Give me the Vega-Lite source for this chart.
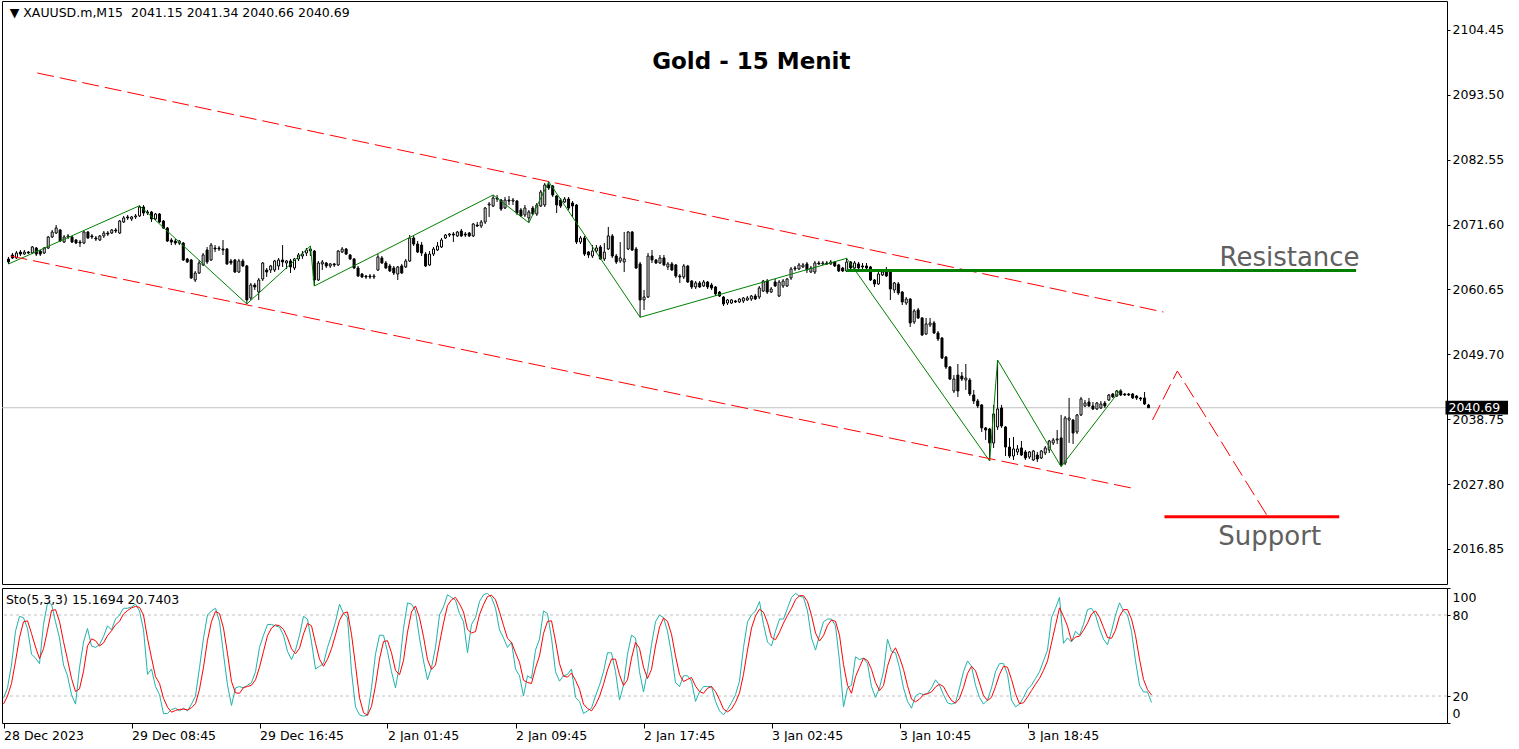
{
"$schema":"https://vega.github.io/schema/vega-lite/v6.json",
"padding":{"left":1,"top":0,"right":0,"bottom":0},
"background":"white",
"spacing":2,
"config":{"view":{"stroke":"black","strokeWidth":1},"font":"DejaVu Sans","axis":{"labelFont":"DejaVu Sans","labelFontSize":12.5,"labelColor":"black","tickColor":"black","domain":false,"grid":false,"title":null}},
"datasets":{
"bars":[
{"i":0,"o":2065.80,"h":2066.14,"l":2064.96,"c":2065.29,"k":18.5,"d":14},
{"i":1,"o":2066.47,"h":2066.81,"l":2065.80,"c":2065.97,"k":26,"d":20},
{"i":2,"o":2065.97,"h":2067.14,"l":2065.80,"c":2066.81,"k":43,"d":29.2},
{"i":3,"o":2066.97,"h":2067.31,"l":2066.30,"c":2066.63,"k":68,"d":45.7},
{"i":4,"o":2066.63,"h":2067.31,"l":2066.47,"c":2066.97,"k":79,"d":63.3},
{"i":5,"o":2066.97,"h":2067.14,"l":2066.63,"c":2066.81,"k":78,"d":75},
{"i":6,"o":2066.81,"h":2067.99,"l":2066.63,"c":2067.82,"k":70,"d":75.7},
{"i":7,"o":2067.65,"h":2067.82,"l":2066.30,"c":2066.63,"k":51,"d":66.3},
{"i":8,"o":2067.14,"h":2067.31,"l":2066.30,"c":2066.63,"k":48,"d":56.3},
{"i":9,"o":2066.81,"h":2067.82,"l":2066.63,"c":2067.65,"k":44,"d":47.7},
{"i":10,"o":2067.65,"h":2069.68,"l":2067.48,"c":2069.51,"k":73,"d":55},
{"i":11,"o":2069.51,"h":2070.69,"l":2069.34,"c":2070.35,"k":89,"d":68.7},
{"i":12,"o":2070.18,"h":2071.53,"l":2070.01,"c":2071.03,"k":88,"d":83.3},
{"i":13,"o":2070.69,"h":2070.86,"l":2068.66,"c":2068.83,"k":75,"d":84},
{"i":14,"o":2068.66,"h":2069.84,"l":2068.49,"c":2069.51,"k":63,"d":75.3},
{"i":15,"o":2069.51,"h":2070.01,"l":2069.17,"c":2069.68,"k":43,"d":60.3},
{"i":16,"o":2069.51,"h":2069.68,"l":2068.49,"c":2068.66,"k":35,"d":47},
{"i":17,"o":2069.00,"h":2069.17,"l":2068.32,"c":2068.49,"k":21,"d":33},
{"i":18,"o":2068.66,"h":2069.00,"l":2067.82,"c":2068.49,"k":14,"d":23.3},
{"i":19,"o":2068.49,"h":2070.52,"l":2068.32,"c":2070.35,"k":41,"d":25.3},
{"i":20,"o":2070.35,"h":2070.52,"l":2069.17,"c":2069.34,"k":60,"d":38.3},
{"i":21,"o":2069.68,"h":2070.01,"l":2069.17,"c":2069.51,"k":70,"d":57},
{"i":22,"o":2069.34,"h":2069.68,"l":2068.83,"c":2069.17,"k":57,"d":62.3},
{"i":23,"o":2069.00,"h":2069.84,"l":2068.83,"c":2069.68,"k":56,"d":61},
{"i":24,"o":2069.68,"h":2070.52,"l":2069.34,"c":2070.18,"k":58,"d":57},
{"i":25,"o":2070.18,"h":2070.52,"l":2069.68,"c":2070.01,"k":64,"d":59.3},
{"i":26,"o":2070.18,"h":2070.86,"l":2070.01,"c":2070.69,"k":72,"d":64.7},
{"i":27,"o":2070.69,"h":2071.03,"l":2070.18,"c":2070.52,"k":69,"d":68.3},
{"i":28,"o":2070.18,"h":2072.38,"l":2070.01,"c":2072.21,"k":77,"d":72.7},
{"i":29,"o":2072.04,"h":2073.06,"l":2071.87,"c":2072.72,"k":80,"d":75.3},
{"i":30,"o":2072.89,"h":2073.23,"l":2072.38,"c":2072.72,"k":85,"d":80.7},
{"i":31,"o":2072.55,"h":2073.06,"l":2072.21,"c":2072.89,"k":85,"d":83.3},
{"i":32,"o":2072.89,"h":2073.39,"l":2072.55,"c":2073.06,"k":86,"d":85.3},
{"i":33,"o":2073.06,"h":2074.79,"l":2072.89,"c":2074.57,"k":88,"d":86.3},
{"i":34,"o":2074.57,"h":2074.91,"l":2073.06,"c":2073.56,"k":83,"d":85.7},
{"i":35,"o":2073.73,"h":2074.07,"l":2073.23,"c":2073.56,"k":69,"d":80},
{"i":36,"o":2073.73,"h":2073.90,"l":2072.04,"c":2072.55,"k":36,"d":62.7},
{"i":37,"o":2072.55,"h":2073.56,"l":2072.38,"c":2073.39,"k":40,"d":48.3},
{"i":38,"o":2073.39,"h":2073.56,"l":2071.87,"c":2072.04,"k":27,"d":34.3},
{"i":39,"o":2072.21,"h":2072.38,"l":2070.86,"c":2071.03,"k":21,"d":29.3},
{"i":40,"o":2071.03,"h":2071.20,"l":2068.66,"c":2068.83,"k":7,"d":18.3},
{"i":41,"o":2069.00,"h":2069.34,"l":2068.15,"c":2068.66,"k":7,"d":11.7},
{"i":42,"o":2068.83,"h":2069.17,"l":2068.15,"c":2068.49,"k":10,"d":8},
{"i":43,"o":2068.49,"h":2069.00,"l":2068.15,"c":2068.83,"k":11,"d":9.3},
{"i":44,"o":2068.49,"h":2068.66,"l":2065.46,"c":2065.63,"k":9,"d":10},
{"i":45,"o":2065.80,"h":2065.97,"l":2065.12,"c":2065.29,"k":11,"d":10.3},
{"i":46,"o":2065.63,"h":2065.80,"l":2062.42,"c":2062.59,"k":9,"d":9.7},
{"i":47,"o":2062.25,"h":2063.77,"l":2061.91,"c":2063.43,"k":14,"d":11.3},
{"i":48,"o":2063.43,"h":2065.63,"l":2063.26,"c":2065.12,"k":20,"d":14.3},
{"i":49,"o":2064.79,"h":2066.81,"l":2064.62,"c":2066.47,"k":41,"d":25},
{"i":50,"o":2067.31,"h":2067.82,"l":2064.96,"c":2065.29,"k":63,"d":41.3},
{"i":51,"o":2065.63,"h":2068.49,"l":2065.46,"c":2068.15,"k":80,"d":61.3},
{"i":52,"o":2067.65,"h":2068.15,"l":2066.97,"c":2067.48,"k":83,"d":75.3},
{"i":53,"o":2067.65,"h":2067.99,"l":2067.14,"c":2067.48,"k":85,"d":82.7},
{"i":54,"o":2067.48,"h":2069.00,"l":2066.47,"c":2067.31,"k":75,"d":81},
{"i":55,"o":2067.48,"h":2067.65,"l":2064.79,"c":2064.96,"k":51,"d":70.3},
{"i":56,"o":2065.46,"h":2065.80,"l":2064.79,"c":2065.12,"k":28,"d":51.3},
{"i":57,"o":2065.63,"h":2065.80,"l":2063.43,"c":2063.60,"k":13,"d":30.7},
{"i":58,"o":2063.60,"h":2065.80,"l":2063.43,"c":2065.46,"k":26,"d":22.3},
{"i":59,"o":2065.46,"h":2065.80,"l":2064.45,"c":2064.62,"k":27,"d":22},
{"i":60,"o":2064.62,"h":2064.79,"l":2058.20,"c":2058.88,"k":26,"d":26.3},
{"i":61,"o":2059.21,"h":2061.75,"l":2058.88,"c":2061.41,"k":28,"d":27},
{"i":62,"o":2061.41,"h":2061.75,"l":2060.56,"c":2061.07,"k":30,"d":28},
{"i":63,"o":2060.22,"h":2062.59,"l":2058.88,"c":2062.25,"k":38,"d":32},
{"i":64,"o":2062.42,"h":2065.29,"l":2062.08,"c":2065.12,"k":56,"d":41.3},
{"i":65,"o":2063.94,"h":2064.28,"l":2062.76,"c":2063.60,"k":65,"d":53},
{"i":66,"o":2063.94,"h":2064.79,"l":2063.43,"c":2064.62,"k":73,"d":64.7},
{"i":67,"o":2063.94,"h":2065.63,"l":2063.60,"c":2065.46,"k":73,"d":70.3},
{"i":68,"o":2064.62,"h":2065.97,"l":2063.94,"c":2065.63,"k":72,"d":72.7},
{"i":69,"o":2065.63,"h":2068.15,"l":2064.45,"c":2065.29,"k":71,"d":72},
{"i":70,"o":2065.12,"h":2065.63,"l":2064.11,"c":2065.46,"k":65,"d":69.3},
{"i":71,"o":2065.46,"h":2065.80,"l":2063.43,"c":2064.45,"k":53,"d":63},
{"i":72,"o":2064.28,"h":2065.97,"l":2063.94,"c":2065.80,"k":47,"d":55},
{"i":73,"o":2065.80,"h":2066.81,"l":2065.46,"c":2066.47,"k":54,"d":51.3},
{"i":74,"o":2066.30,"h":2067.14,"l":2065.80,"c":2066.63,"k":65,"d":55.3},
{"i":75,"o":2066.81,"h":2067.65,"l":2066.30,"c":2067.31,"k":79,"d":66},
{"i":76,"o":2067.14,"h":2067.99,"l":2066.30,"c":2067.48,"k":77,"d":73.7},
{"i":77,"o":2067.14,"h":2067.31,"l":2061.24,"c":2062.25,"k":60,"d":72},
{"i":78,"o":2062.25,"h":2065.46,"l":2062.08,"c":2065.12,"k":40,"d":59},
{"i":79,"o":2064.96,"h":2065.63,"l":2063.94,"c":2065.29,"k":42,"d":47.3},
{"i":80,"o":2065.12,"h":2065.29,"l":2064.28,"c":2064.62,"k":44,"d":42},
{"i":81,"o":2064.62,"h":2065.12,"l":2064.28,"c":2064.96,"k":56,"d":47.3},
{"i":82,"o":2064.96,"h":2065.12,"l":2064.45,"c":2064.79,"k":65,"d":55},
{"i":83,"o":2064.79,"h":2067.31,"l":2064.62,"c":2067.14,"k":75,"d":65.3},
{"i":84,"o":2066.97,"h":2067.82,"l":2066.81,"c":2067.48,"k":88,"d":76},
{"i":85,"o":2067.48,"h":2067.65,"l":2066.47,"c":2066.63,"k":81,"d":81.3},
{"i":86,"o":2066.47,"h":2066.63,"l":2065.63,"c":2065.80,"k":78,"d":82.3},
{"i":87,"o":2065.80,"h":2065.97,"l":2064.11,"c":2064.28,"k":38,"d":65.7},
{"i":88,"o":2064.28,"h":2064.62,"l":2062.76,"c":2062.93,"k":12,"d":42.7},
{"i":89,"o":2063.26,"h":2063.43,"l":2062.59,"c":2062.76,"k":6,"d":18.7},
{"i":90,"o":2062.93,"h":2063.09,"l":2062.42,"c":2062.76,"k":5,"d":7.7},
{"i":91,"o":2062.93,"h":2063.26,"l":2062.42,"c":2062.76,"k":6,"d":5.7},
{"i":92,"o":2062.76,"h":2063.26,"l":2062.42,"c":2062.93,"k":26,"d":12.3},
{"i":93,"o":2063.94,"h":2066.63,"l":2063.77,"c":2066.14,"k":51,"d":27.7},
{"i":94,"o":2065.97,"h":2066.30,"l":2064.96,"c":2065.12,"k":65,"d":47.3},
{"i":95,"o":2065.12,"h":2065.46,"l":2064.11,"c":2064.28,"k":65,"d":60.3},
{"i":96,"o":2064.62,"h":2064.96,"l":2063.60,"c":2063.77,"k":53,"d":61},
{"i":97,"o":2064.28,"h":2064.62,"l":2063.09,"c":2063.43,"k":38,"d":52},
{"i":98,"o":2063.26,"h":2064.62,"l":2062.25,"c":2064.45,"k":26,"d":39},
{"i":99,"o":2064.62,"h":2064.96,"l":2063.26,"c":2063.43,"k":43,"d":35.7},
{"i":100,"o":2064.45,"h":2065.80,"l":2064.28,"c":2065.46,"k":70,"d":46.3},
{"i":101,"o":2065.46,"h":2069.84,"l":2065.29,"c":2069.34,"k":89,"d":67.3},
{"i":102,"o":2069.34,"h":2069.68,"l":2067.99,"c":2068.32,"k":88,"d":82.3},
{"i":103,"o":2068.32,"h":2068.83,"l":2066.81,"c":2066.97,"k":83,"d":86.7},
{"i":104,"o":2068.15,"h":2068.66,"l":2066.30,"c":2066.81,"k":63,"d":78},
{"i":105,"o":2066.63,"h":2066.97,"l":2064.45,"c":2064.62,"k":46,"d":64},
{"i":106,"o":2064.79,"h":2067.14,"l":2064.62,"c":2066.63,"k":32,"d":47},
{"i":107,"o":2066.63,"h":2067.82,"l":2066.30,"c":2067.48,"k":41,"d":39.7},
{"i":108,"o":2067.31,"h":2068.66,"l":2067.14,"c":2067.99,"k":56,"d":43},
{"i":109,"o":2067.82,"h":2069.34,"l":2067.65,"c":2069.00,"k":80,"d":59},
{"i":110,"o":2069.34,"h":2070.01,"l":2069.17,"c":2069.84,"k":86,"d":74},
{"i":111,"o":2069.84,"h":2070.18,"l":2069.51,"c":2070.01,"k":95,"d":87},
{"i":112,"o":2070.01,"h":2070.35,"l":2068.66,"c":2069.84,"k":93,"d":91.3},
{"i":113,"o":2069.68,"h":2070.52,"l":2069.51,"c":2070.35,"k":91,"d":93},
{"i":114,"o":2070.52,"h":2070.86,"l":2069.51,"c":2069.68,"k":81,"d":88.3},
{"i":115,"o":2070.01,"h":2070.35,"l":2069.51,"c":2069.84,"k":75,"d":82.3},
{"i":116,"o":2070.18,"h":2070.35,"l":2069.51,"c":2069.68,"k":52,"d":69.3},
{"i":117,"o":2069.68,"h":2071.87,"l":2069.51,"c":2071.70,"k":73,"d":66.7},
{"i":118,"o":2071.53,"h":2072.04,"l":2071.20,"c":2071.36,"k":78,"d":67.7},
{"i":119,"o":2071.36,"h":2072.38,"l":2071.03,"c":2072.04,"k":90,"d":80.3},
{"i":120,"o":2072.04,"h":2074.57,"l":2071.70,"c":2074.40,"k":95,"d":87.7},
{"i":121,"o":2074.91,"h":2075.42,"l":2072.89,"c":2075.08,"k":96,"d":93.7},
{"i":122,"o":2074.74,"h":2076.60,"l":2074.57,"c":2076.09,"k":93,"d":94.7},
{"i":123,"o":2076.09,"h":2076.60,"l":2075.42,"c":2075.92,"k":85,"d":91.3},
{"i":124,"o":2075.75,"h":2075.92,"l":2073.90,"c":2074.23,"k":69,"d":82.3},
{"i":125,"o":2074.40,"h":2076.26,"l":2074.23,"c":2075.75,"k":63,"d":72.3},
{"i":126,"o":2075.75,"h":2076.43,"l":2074.91,"c":2075.58,"k":56,"d":62.7},
{"i":127,"o":2075.58,"h":2076.09,"l":2074.91,"c":2075.75,"k":60,"d":59.7},
{"i":128,"o":2075.58,"h":2075.75,"l":2073.23,"c":2073.56,"k":40,"d":52},
{"i":129,"o":2074.07,"h":2074.40,"l":2072.89,"c":2073.06,"k":35,"d":45},
{"i":130,"o":2073.23,"h":2074.91,"l":2072.89,"c":2074.40,"k":20,"d":31.7},
{"i":131,"o":2072.72,"h":2074.07,"l":2071.92,"c":2073.73,"k":35,"d":30},
{"i":132,"o":2074.40,"h":2074.74,"l":2073.23,"c":2073.39,"k":33,"d":29.3},
{"i":133,"o":2073.39,"h":2075.25,"l":2073.06,"c":2074.91,"k":54,"d":40.7},
{"i":134,"o":2074.74,"h":2077.44,"l":2074.57,"c":2077.10,"k":62,"d":49.7},
{"i":135,"o":2074.91,"h":2078.62,"l":2074.57,"c":2078.29,"k":83,"d":66.3},
{"i":136,"o":2078.29,"h":2078.84,"l":2077.44,"c":2077.78,"k":81,"d":75.3},
{"i":137,"o":2078.12,"h":2078.29,"l":2076.26,"c":2076.60,"k":63,"d":75.7},
{"i":138,"o":2076.43,"h":2076.60,"l":2073.56,"c":2074.91,"k":38,"d":60.7},
{"i":139,"o":2075.75,"h":2076.09,"l":2074.40,"c":2074.74,"k":31,"d":44},
{"i":140,"o":2075.42,"h":2076.26,"l":2075.25,"c":2075.92,"k":35,"d":34.7},
{"i":141,"o":2075.92,"h":2076.26,"l":2074.07,"c":2074.40,"k":36,"d":34},
{"i":142,"o":2075.25,"h":2075.58,"l":2072.89,"c":2074.74,"k":40,"d":37},
{"i":143,"o":2074.91,"h":2075.08,"l":2068.32,"c":2068.66,"k":19,"d":31.7},
{"i":144,"o":2068.66,"h":2069.68,"l":2068.32,"c":2069.34,"k":16,"d":25},
{"i":145,"o":2069.34,"h":2069.68,"l":2066.30,"c":2066.63,"k":7,"d":14},
{"i":146,"o":2066.97,"h":2067.14,"l":2065.97,"c":2066.47,"k":9,"d":10.7},
{"i":147,"o":2066.30,"h":2068.15,"l":2065.97,"c":2067.14,"k":11,"d":9},
{"i":148,"o":2067.14,"h":2068.15,"l":2066.81,"c":2067.65,"k":20,"d":13.3},
{"i":149,"o":2067.82,"h":2068.15,"l":2065.63,"c":2065.80,"k":28,"d":19.7},
{"i":150,"o":2065.80,"h":2068.49,"l":2065.46,"c":2066.97,"k":38,"d":28.7},
{"i":151,"o":2067.48,"h":2071.20,"l":2067.31,"c":2069.68,"k":52,"d":39.3},
{"i":152,"o":2069.68,"h":2070.01,"l":2065.97,"c":2066.30,"k":52,"d":47.3},
{"i":153,"o":2066.30,"h":2066.63,"l":2064.96,"c":2065.29,"k":38,"d":47.3},
{"i":154,"o":2065.46,"h":2068.66,"l":2065.12,"c":2065.97,"k":17,"d":35.7},
{"i":155,"o":2065.29,"h":2070.35,"l":2063.60,"c":2065.80,"k":28,"d":27.7},
{"i":156,"o":2067.48,"h":2070.52,"l":2067.31,"c":2070.35,"k":51,"d":32},
{"i":157,"o":2070.35,"h":2070.52,"l":2067.14,"c":2067.31,"k":65,"d":48},
{"i":158,"o":2067.48,"h":2067.82,"l":2064.11,"c":2064.28,"k":63,"d":59.7},
{"i":159,"o":2064.96,"h":2065.29,"l":2055.96,"c":2058.88,"k":38,"d":55.3},
{"i":160,"o":2058.88,"h":2060.56,"l":2057.19,"c":2059.38,"k":23,"d":41.3},
{"i":161,"o":2059.38,"h":2066.81,"l":2059.21,"c":2066.30,"k":38,"d":33},
{"i":162,"o":2066.30,"h":2067.31,"l":2065.12,"c":2065.63,"k":58,"d":39.7},
{"i":163,"o":2065.63,"h":2065.80,"l":2064.96,"c":2065.12,"k":75,"d":57},
{"i":164,"o":2065.12,"h":2066.47,"l":2064.96,"c":2065.97,"k":80,"d":71},
{"i":165,"o":2065.97,"h":2066.47,"l":2064.62,"c":2064.79,"k":78,"d":77.7},
{"i":166,"o":2064.45,"h":2065.29,"l":2063.94,"c":2064.96,"k":68,"d":75.3},
{"i":167,"o":2064.96,"h":2065.29,"l":2063.77,"c":2063.94,"k":51,"d":65.7},
{"i":168,"o":2064.79,"h":2064.96,"l":2062.59,"c":2062.93,"k":30,"d":49.7},
{"i":169,"o":2062.93,"h":2063.26,"l":2061.75,"c":2062.76,"k":27,"d":36},
{"i":170,"o":2062.76,"h":2064.96,"l":2062.42,"c":2064.62,"k":35,"d":30.7},
{"i":171,"o":2064.62,"h":2064.79,"l":2061.75,"c":2061.91,"k":35,"d":32.3},
{"i":172,"o":2062.08,"h":2062.25,"l":2060.73,"c":2061.07,"k":31,"d":33.7},
{"i":173,"o":2061.07,"h":2062.08,"l":2060.73,"c":2061.75,"k":16,"d":27.3},
{"i":174,"o":2061.75,"h":2062.08,"l":2060.90,"c":2061.07,"k":23,"d":23.3},
{"i":175,"o":2061.24,"h":2062.25,"l":2061.07,"c":2061.91,"k":27,"d":22},
{"i":176,"o":2061.91,"h":2062.08,"l":2060.73,"c":2061.07,"k":27,"d":25.7},
{"i":177,"o":2061.41,"h":2061.75,"l":2060.56,"c":2060.90,"k":27,"d":27},
{"i":178,"o":2061.07,"h":2061.24,"l":2059.55,"c":2059.89,"k":16,"d":23.3},
{"i":179,"o":2060.22,"h":2060.39,"l":2059.38,"c":2059.55,"k":9,"d":17.3},
{"i":180,"o":2059.38,"h":2059.55,"l":2057.86,"c":2058.20,"k":6,"d":10.3},
{"i":181,"o":2058.37,"h":2059.04,"l":2058.03,"c":2058.88,"k":10,"d":8.3},
{"i":182,"o":2058.37,"h":2059.04,"l":2058.20,"c":2058.88,"k":15,"d":10.3},
{"i":183,"o":2058.71,"h":2058.88,"l":2058.37,"c":2058.54,"k":21,"d":15.3},
{"i":184,"o":2058.54,"h":2059.21,"l":2058.37,"c":2059.04,"k":31,"d":22.3},
{"i":185,"o":2058.71,"h":2059.38,"l":2058.37,"c":2059.21,"k":56,"d":36},
{"i":186,"o":2058.88,"h":2059.55,"l":2058.71,"c":2059.21,"k":75,"d":54},
{"i":187,"o":2059.04,"h":2059.72,"l":2058.71,"c":2059.55,"k":80,"d":70.3},
{"i":188,"o":2059.55,"h":2059.89,"l":2058.88,"c":2059.04,"k":83,"d":79.3},
{"i":189,"o":2059.38,"h":2061.24,"l":2059.04,"c":2060.90,"k":90,"d":84.3},
{"i":190,"o":2060.39,"h":2062.25,"l":2060.22,"c":2062.08,"k":73,"d":82},
{"i":191,"o":2062.08,"h":2062.42,"l":2059.89,"c":2060.22,"k":60,"d":74.3},
{"i":192,"o":2060.22,"h":2061.07,"l":2060.06,"c":2060.73,"k":57,"d":63.3},
{"i":193,"o":2061.91,"h":2062.42,"l":2061.07,"c":2061.24,"k":68,"d":61.7},
{"i":194,"o":2059.55,"h":2062.25,"l":2059.38,"c":2061.91,"k":77,"d":67.3},
{"i":195,"o":2061.24,"h":2062.42,"l":2060.90,"c":2062.08,"k":77,"d":74},
{"i":196,"o":2061.24,"h":2062.59,"l":2061.07,"c":2062.42,"k":85,"d":79.7},
{"i":197,"o":2062.59,"h":2064.45,"l":2062.25,"c":2064.11,"k":93,"d":85},
{"i":198,"o":2064.28,"h":2064.62,"l":2063.77,"c":2064.11,"k":96,"d":91.3},
{"i":199,"o":2064.11,"h":2065.12,"l":2063.94,"c":2064.79,"k":94,"d":94.3},
{"i":200,"o":2064.45,"h":2065.12,"l":2064.28,"c":2064.79,"k":93,"d":94.3},
{"i":201,"o":2064.96,"h":2065.29,"l":2063.43,"c":2063.94,"k":83,"d":90},
{"i":202,"o":2063.60,"h":2064.62,"l":2063.43,"c":2064.28,"k":63,"d":79.7},
{"i":203,"o":2063.60,"h":2065.46,"l":2063.26,"c":2065.12,"k":54,"d":66.7},
{"i":204,"o":2065.12,"h":2065.46,"l":2064.79,"c":2064.96,"k":65,"d":60.7},
{"i":205,"o":2064.96,"h":2065.46,"l":2064.79,"c":2065.12,"k":75,"d":64.7},
{"i":206,"o":2065.12,"h":2065.46,"l":2064.79,"c":2064.96,"k":77,"d":72.3},
{"i":207,"o":2064.96,"h":2065.63,"l":2064.79,"c":2065.29,"k":77,"d":76.3},
{"i":208,"o":2065.29,"h":2065.46,"l":2064.45,"c":2064.62,"k":72,"d":75.3},
{"i":209,"o":2064.79,"h":2064.96,"l":2063.60,"c":2063.77,"k":46,"d":65},
{"i":210,"o":2064.28,"h":2064.45,"l":2063.60,"c":2063.77,"k":12,"d":43.3},
{"i":211,"o":2063.77,"h":2065.91,"l":2063.60,"c":2065.29,"k":26,"d":28},
{"i":212,"o":2065.29,"h":2065.46,"l":2063.94,"c":2064.28,"k":28,"d":22},
{"i":213,"o":2064.28,"h":2065.46,"l":2064.11,"c":2065.12,"k":49,"d":34.3},
{"i":214,"o":2064.96,"h":2065.29,"l":2064.11,"c":2064.28,"k":47,"d":41.3},
{"i":215,"o":2064.62,"h":2065.12,"l":2063.94,"c":2064.45,"k":48,"d":48},
{"i":216,"o":2064.62,"h":2065.12,"l":2063.94,"c":2064.28,"k":44,"d":46.3},
{"i":217,"o":2064.45,"h":2064.62,"l":2062.08,"c":2062.25,"k":27,"d":39.7},
{"i":218,"o":2062.25,"h":2062.42,"l":2061.07,"c":2061.58,"k":19,"d":30},
{"i":219,"o":2061.58,"h":2063.60,"l":2061.41,"c":2063.26,"k":26,"d":24},
{"i":220,"o":2063.09,"h":2063.94,"l":2062.93,"c":2063.60,"k":38,"d":27.7},
{"i":221,"o":2063.94,"h":2064.45,"l":2062.76,"c":2062.93,"k":62,"d":42},
{"i":222,"o":2063.77,"h":2063.94,"l":2058.88,"c":2060.73,"k":53,"d":51},
{"i":223,"o":2060.56,"h":2061.91,"l":2060.06,"c":2061.75,"k":52,"d":55.7},
{"i":224,"o":2061.58,"h":2061.91,"l":2059.72,"c":2060.06,"k":41,"d":48.7},
{"i":225,"o":2060.22,"h":2060.39,"l":2058.03,"c":2058.54,"k":26,"d":39.7},
{"i":226,"o":2058.37,"h":2059.38,"l":2058.03,"c":2059.04,"k":16,"d":27.7},
{"i":227,"o":2059.04,"h":2059.21,"l":2054.32,"c":2055.00,"k":11,"d":17.7},
{"i":228,"o":2055.17,"h":2057.36,"l":2054.83,"c":2057.02,"k":20,"d":15.7},
{"i":229,"o":2057.19,"h":2057.53,"l":2055.67,"c":2055.84,"k":22,"d":17.7},
{"i":230,"o":2055.84,"h":2056.01,"l":2052.80,"c":2052.97,"k":21,"d":21},
{"i":231,"o":2053.14,"h":2055.84,"l":2052.97,"c":2054.83,"k":22,"d":21.7},
{"i":232,"o":2054.66,"h":2055.84,"l":2054.32,"c":2055.00,"k":26,"d":23},
{"i":233,"o":2055.00,"h":2055.34,"l":2053.14,"c":2053.31,"k":32,"d":26.7},
{"i":234,"o":2053.31,"h":2053.64,"l":2051.95,"c":2052.29,"k":28,"d":28.7},
{"i":235,"o":2052.46,"h":2052.63,"l":2048.91,"c":2049.08,"k":21,"d":27},
{"i":236,"o":2049.25,"h":2049.42,"l":2047.23,"c":2047.57,"k":15,"d":21.3},
{"i":237,"o":2047.57,"h":2047.74,"l":2045.37,"c":2045.54,"k":14,"d":16.7},
{"i":238,"o":2043.52,"h":2046.21,"l":2043.18,"c":2045.54,"k":15,"d":14.7},
{"i":239,"o":2046.21,"h":2048.07,"l":2042.51,"c":2043.52,"k":26,"d":18.3},
{"i":240,"o":2046.04,"h":2046.72,"l":2045.20,"c":2045.54,"k":38,"d":26.3},
{"i":241,"o":2045.37,"h":2048.07,"l":2043.69,"c":2045.71,"k":46,"d":36.7},
{"i":242,"o":2045.37,"h":2045.71,"l":2042.67,"c":2043.01,"k":42,"d":42},
{"i":243,"o":2042.84,"h":2043.69,"l":2041.32,"c":2041.83,"k":28,"d":38.7},
{"i":244,"o":2041.83,"h":2042.17,"l":2040.65,"c":2040.99,"k":19,"d":29.7},
{"i":245,"o":2041.16,"h":2041.32,"l":2036.60,"c":2037.28,"k":14,"d":20.3},
{"i":246,"o":2037.28,"h":2037.44,"l":2035.25,"c":2036.93,"k":17,"d":16.7},
{"i":247,"o":2037.10,"h":2037.28,"l":2031.70,"c":2034.74,"k":26,"d":19},
{"i":248,"o":2034.74,"h":2041.16,"l":2033.90,"c":2039.64,"k":38,"d":27},
{"i":249,"o":2037.44,"h":2048.75,"l":2036.93,"c":2040.48,"k":44,"d":36},
{"i":250,"o":2040.65,"h":2041.16,"l":2037.28,"c":2037.61,"k":44,"d":42},
{"i":251,"o":2037.44,"h":2037.61,"l":2032.54,"c":2034.06,"k":36,"d":41.3},
{"i":252,"o":2034.06,"h":2035.59,"l":2032.21,"c":2032.54,"k":17,"d":32.3},
{"i":253,"o":2032.54,"h":2035.76,"l":2031.87,"c":2033.73,"k":12,"d":21.7},
{"i":254,"o":2033.22,"h":2034.40,"l":2032.71,"c":2033.73,"k":14,"d":14.3},
{"i":255,"o":2033.90,"h":2035.08,"l":2032.54,"c":2032.71,"k":19,"d":15},
{"i":256,"o":2033.22,"h":2033.56,"l":2031.87,"c":2032.21,"k":25,"d":19.3},
{"i":257,"o":2032.38,"h":2033.39,"l":2032.04,"c":2033.22,"k":28,"d":24},
{"i":258,"o":2031.87,"h":2033.56,"l":2031.70,"c":2033.39,"k":33,"d":28.7},
{"i":259,"o":2032.71,"h":2033.22,"l":2031.53,"c":2032.04,"k":38,"d":33},
{"i":260,"o":2032.21,"h":2033.56,"l":2032.04,"c":2033.39,"k":46,"d":39},
{"i":261,"o":2033.05,"h":2034.23,"l":2032.71,"c":2033.90,"k":54,"d":46},
{"i":262,"o":2033.56,"h":2035.25,"l":2033.05,"c":2035.08,"k":78,"d":59.3},
{"i":263,"o":2034.74,"h":2035.59,"l":2034.40,"c":2035.25,"k":85,"d":72.3},
{"i":264,"o":2035.25,"h":2036.93,"l":2034.57,"c":2035.42,"k":93,"d":85.3},
{"i":265,"o":2035.59,"h":2039.47,"l":2030.74,"c":2031.03,"k":59,"d":79},
{"i":266,"o":2031.36,"h":2039.30,"l":2031.03,"c":2038.96,"k":63,"d":71.7},
{"i":267,"o":2038.62,"h":2042.34,"l":2034.74,"c":2038.96,"k":60,"d":60.7},
{"i":268,"o":2038.62,"h":2038.79,"l":2034.57,"c":2036.43,"k":68,"d":63.7},
{"i":269,"o":2036.60,"h":2039.64,"l":2036.26,"c":2039.47,"k":65,"d":64.3},
{"i":270,"o":2039.47,"h":2042.51,"l":2039.30,"c":2042.17,"k":73,"d":68.7},
{"i":271,"o":2040.99,"h":2042.00,"l":2040.82,"c":2041.49,"k":84,"d":74},
{"i":272,"o":2041.66,"h":2042.34,"l":2040.82,"c":2040.99,"k":85,"d":80.7},
{"i":273,"o":2040.99,"h":2041.66,"l":2040.31,"c":2040.48,"k":80,"d":83},
{"i":274,"o":2040.48,"h":2041.66,"l":2040.31,"c":2041.49,"k":70,"d":78.3},
{"i":275,"o":2040.65,"h":2041.83,"l":2040.48,"c":2041.32,"k":62,"d":70.7},
{"i":276,"o":2041.49,"h":2041.83,"l":2040.65,"c":2040.99,"k":58,"d":63.3},
{"i":277,"o":2042.00,"h":2043.01,"l":2041.83,"c":2042.84,"k":68,"d":62.7},
{"i":278,"o":2043.01,"h":2043.18,"l":2042.34,"c":2042.51,"k":80,"d":68.7},
{"i":279,"o":2042.67,"h":2043.69,"l":2042.51,"c":2043.52,"k":89,"d":79},
{"i":280,"o":2043.52,"h":2043.80,"l":2042.67,"c":2042.84,"k":83,"d":84},
{"i":281,"o":2043.01,"h":2043.18,"l":2042.67,"c":2042.84,"k":80,"d":84},
{"i":282,"o":2043.01,"h":2043.18,"l":2042.67,"c":2042.84,"k":68,"d":77},
{"i":283,"o":2043.01,"h":2043.18,"l":2042.17,"c":2042.34,"k":46,"d":64.7},
{"i":284,"o":2042.67,"h":2042.84,"l":2042.00,"c":2042.34,"k":28,"d":47.3},
{"i":285,"o":2042.34,"h":2042.51,"l":2041.83,"c":2042.17,"k":23,"d":32.3},
{"i":286,"o":2042.34,"h":2043.35,"l":2041.16,"c":2041.32,"k":23,"d":24.7},
{"i":287,"o":2041.15,"h":2041.34,"l":2040.66,"c":2040.69,"k":15.17,"d":20.74}
],
"shapes":[
{"g":"zz","i":0,"p":2064.95},{"g":"zz","i":33,"p":2074.79},{"g":"zz","i":60,"p":2058.20},{"g":"zz","i":76,"p":2067.99},{"g":"zz","i":77,"p":2061.24},{"g":"zz","i":122,"p":2076.60},{"g":"zz","i":131,"p":2071.92},{"g":"zz","i":136,"p":2078.84},{"g":"zz","i":159,"p":2055.96},{"g":"zz","i":211,"p":2065.91},{"g":"zz","i":247,"p":2031.70},{"g":"zz","i":249,"p":2048.75},{"g":"zz","i":265,"p":2030.74},{"g":"zz","i":280,"p":2043.80},
{"g":"up","i":7.25,"p":2097.19},{"g":"up","i":290.75,"p":2056.85},
{"g":"lo","i":0.5,"p":2066.30},{"g":"lo","i":283,"p":2027.10},
{"g":"res","i":211,"p":2063.85},{"g":"res","i":339.25,"p":2063.85},
{"g":"sup","i":291,"p":2022.30},{"g":"sup","i":335,"p":2022.30},
{"g":"fc","i":288,"p":2038.62},{"g":"fc","i":294.25,"p":2046.89},{"g":"fc","i":316.75,"p":2022.59}
],
"notes":[
{"g":"hdr","t":"▼ XAUUSD.m,M15 \u00a02041.15 2041.34 2040.66 2040.69","i":0.3,"p":2107.32},
{"g":"title","t":"Gold - 15 Menit","i":187,"p":2099.05},
{"g":"res","t":"Resistance","i":322.5,"p":2065.96},
{"g":"sup","t":"Support","i":317.5,"p":2018.88},
{"g":"px","t":"2040.69","i":362.5,"p":2040.69},
{"g":"sto","t":"Sto(5,3,3) 15.1694 20.7403","i":0.6,"p":91}
]
},
"vconcat":[
{
"width":1445,"height":583,
"layer":[
{"data":{"values":[{"p":2040.69}]},"mark":{"type":"rule","color":"#C0C0C0","strokeWidth":1},
 "encoding":{"y":{"field":"p","type":"quantitative","scale":{"domain":[2010.94,2109.34],"nice":false,"zero":false},
  "axis":{"orient":"right","values":[2016.85,2027.8,2038.75,2049.7,2060.65,2071.6,2082.55,2093.5,2104.45],"format":".2f","tickSize":3,"labelPadding":2,"labelFlush":false,"title":null}}}},
{"data":{"name":"bars"},"mark":{"type":"rule","color":"black","strokeWidth":1},
 "encoding":{"x":{"field":"i","type":"quantitative","scale":{"domain":[-0.375,360.875],"nice":false,"zero":false},"axis":null},
  "y":{"field":"l","type":"quantitative","scale":{"domain":[2010.94,2109.34],"nice":false,"zero":false}},"y2":{"field":"h"}}},
{"data":{"name":"bars"},"mark":{"type":"bar","size":2,"stroke":"black","strokeWidth":1},
 "encoding":{"x":{"field":"i","type":"quantitative","scale":{"domain":[-0.375,360.875],"nice":false,"zero":false},"axis":null},
  "y":{"field":"o","type":"quantitative","scale":{"domain":[2010.94,2109.34],"nice":false,"zero":false}},"y2":{"field":"c"},
  "fill":{"condition":{"test":"datum.c >= datum.o","value":"white"},"value":"black"}}},
{"data":{"name":"shapes"},"transform":[{"filter":"datum.g=='zz'"}],"mark":{"type":"line","color":"#008000","strokeWidth":1},
 "encoding":{"x":{"field":"i","type":"quantitative","scale":{"domain":[-0.375,360.875],"nice":false,"zero":false},"axis":null},
  "y":{"field":"p","type":"quantitative","scale":{"domain":[2010.94,2109.34],"nice":false,"zero":false}}}},
{"data":{"name":"shapes"},"transform":[{"filter":"datum.g=='up' || datum.g=='lo'"}],"mark":{"type":"line","color":"#FF0000","strokeWidth":1,"strokeDash":[17,6]},
 "encoding":{"x":{"field":"i","type":"quantitative","scale":{"domain":[-0.375,360.875],"nice":false,"zero":false},"axis":null},
  "y":{"field":"p","type":"quantitative","scale":{"domain":[2010.94,2109.34],"nice":false,"zero":false}},"detail":{"field":"g"}}},
{"data":{"name":"shapes"},"transform":[{"filter":"datum.g=='res'"}],"mark":{"type":"line","color":"#008000","strokeWidth":3},
 "encoding":{"x":{"field":"i","type":"quantitative","scale":{"domain":[-0.375,360.875],"nice":false,"zero":false},"axis":null},
  "y":{"field":"p","type":"quantitative","scale":{"domain":[2010.94,2109.34],"nice":false,"zero":false}}}},
{"data":{"name":"shapes"},"transform":[{"filter":"datum.g=='sup'"}],"mark":{"type":"line","color":"#FF0000","strokeWidth":3},
 "encoding":{"x":{"field":"i","type":"quantitative","scale":{"domain":[-0.375,360.875],"nice":false,"zero":false},"axis":null},
  "y":{"field":"p","type":"quantitative","scale":{"domain":[2010.94,2109.34],"nice":false,"zero":false}}}},
{"data":{"name":"shapes"},"transform":[{"filter":"datum.g=='fc'"}],"mark":{"type":"line","color":"#FF0000","strokeWidth":1,"strokeDash":[17,6]},
 "encoding":{"x":{"field":"i","type":"quantitative","scale":{"domain":[-0.375,360.875],"nice":false,"zero":false},"axis":null},
  "y":{"field":"p","type":"quantitative","scale":{"domain":[2010.94,2109.34],"nice":false,"zero":false}}}},
{"data":{"values":[{"a":361.75,"b":377.5,"p1":2041.88,"p2":2039.55}]},"mark":{"type":"rect","color":"black"},
 "encoding":{"x":{"field":"a","type":"quantitative","scale":{"domain":[-0.375,360.875],"nice":false,"zero":false},"axis":null},"x2":{"field":"b"},
  "y":{"field":"p1","type":"quantitative","scale":{"domain":[2010.94,2109.34],"nice":false,"zero":false}},"y2":{"field":"p2"}}},
{"data":{"name":"notes"},"transform":[{"filter":"datum.g=='px'"}],"mark":{"type":"text","align":"left","baseline":"middle","fontSize":12.5,"font":"DejaVu Sans","color":"white"},
 "encoding":{"x":{"field":"i","type":"quantitative","scale":{"domain":[-0.375,360.875],"nice":false,"zero":false},"axis":null},
  "y":{"field":"p","type":"quantitative","scale":{"domain":[2010.94,2109.34],"nice":false,"zero":false}},"text":{"field":"t"}}},
{"data":{"name":"notes"},"transform":[{"filter":"datum.g=='hdr'"}],"mark":{"type":"text","align":"left","baseline":"middle","fontSize":12.5,"font":"DejaVu Sans","color":"black"},
 "encoding":{"x":{"field":"i","type":"quantitative","scale":{"domain":[-0.375,360.875],"nice":false,"zero":false},"axis":null},
  "y":{"field":"p","type":"quantitative","scale":{"domain":[2010.94,2109.34],"nice":false,"zero":false}},"text":{"field":"t"}}},
{"data":{"name":"notes"},"transform":[{"filter":"datum.g=='title'"}],"mark":{"type":"text","align":"center","baseline":"middle","fontSize":23,"fontWeight":"bold","font":"Comic Sans MS, DejaVu Sans","color":"black"},
 "encoding":{"x":{"field":"i","type":"quantitative","scale":{"domain":[-0.375,360.875],"nice":false,"zero":false},"axis":null},
  "y":{"field":"p","type":"quantitative","scale":{"domain":[2010.94,2109.34],"nice":false,"zero":false}},"text":{"field":"t"}}},
{"data":{"name":"notes"},"transform":[{"filter":"datum.g=='res' || datum.g=='sup'"}],"mark":{"type":"text","align":"center","baseline":"middle","fontSize":26,"font":"Comic Sans MS, DejaVu Sans","color":"#606060"},
 "encoding":{"x":{"field":"i","type":"quantitative","scale":{"domain":[-0.375,360.875],"nice":false,"zero":false},"axis":null},
  "y":{"field":"p","type":"quantitative","scale":{"domain":[2010.94,2109.34],"nice":false,"zero":false}},"text":{"field":"t"}}}
]
},
{
"width":1445,"height":135,
"layer":[
{"data":{"values":[{"v":20},{"v":80}]},"mark":{"type":"rule","color":"#C0C0C0","strokeWidth":1,"strokeDash":[3,3]},
 "encoding":{"y":{"field":"v","type":"quantitative","scale":{"domain":[0,100],"nice":false,"zero":false},
  "axis":{"orient":"right","values":[0,20,80,100],"labelFlush":true,"labelFlushOffset":-3,"tickSize":3,"labelPadding":2,"title":null}}}},
{"data":{"name":"bars"},"mark":{"type":"line","color":"#20B2AA","strokeWidth":1},
 "encoding":{"x":{"field":"i","type":"quantitative","scale":{"domain":[-0.375,360.875],"nice":false,"zero":false},
   "axis":{"orient":"bottom","values":[0,32,64,96,128,160,192,224,256],"labelExpr":"datum.value==0?'28 Dec 2023':datum.value==32?'29 Dec 08:45':datum.value==64?'29 Dec 16:45':datum.value==96?'2 Jan 01:45':datum.value==128?'2 Jan 09:45':datum.value==160?'2 Jan 17:45':datum.value==192?'3 Jan 02:45':datum.value==224?'3 Jan 10:45':'3 Jan 18:45'","labelAlign":"left","labelBaseline":"top","labelFlush":false,"labelOverlap":false,"tickSize":5,"labelPadding":1,"labelDx":-1,"title":null}},
  "y":{"field":"k","type":"quantitative","scale":{"domain":[0,100],"nice":false,"zero":false}}}},
{"data":{"name":"bars"},"mark":{"type":"line","color":"#FF0000","strokeWidth":1},
 "encoding":{"x":{"field":"i","type":"quantitative","scale":{"domain":[-0.375,360.875],"nice":false,"zero":false}},
  "y":{"field":"d","type":"quantitative","scale":{"domain":[0,100],"nice":false,"zero":false}}}},
{"data":{"name":"notes"},"transform":[{"filter":"datum.g=='sto'"}],"mark":{"type":"text","align":"left","baseline":"middle","fontSize":12.5,"font":"DejaVu Sans","color":"black"},
 "encoding":{"x":{"field":"i","type":"quantitative","scale":{"domain":[-0.375,360.875],"nice":false,"zero":false}},
  "y":{"field":"p","type":"quantitative","scale":{"domain":[0,100],"nice":false,"zero":false}},"text":{"field":"t"}}}
]
}
]
}
